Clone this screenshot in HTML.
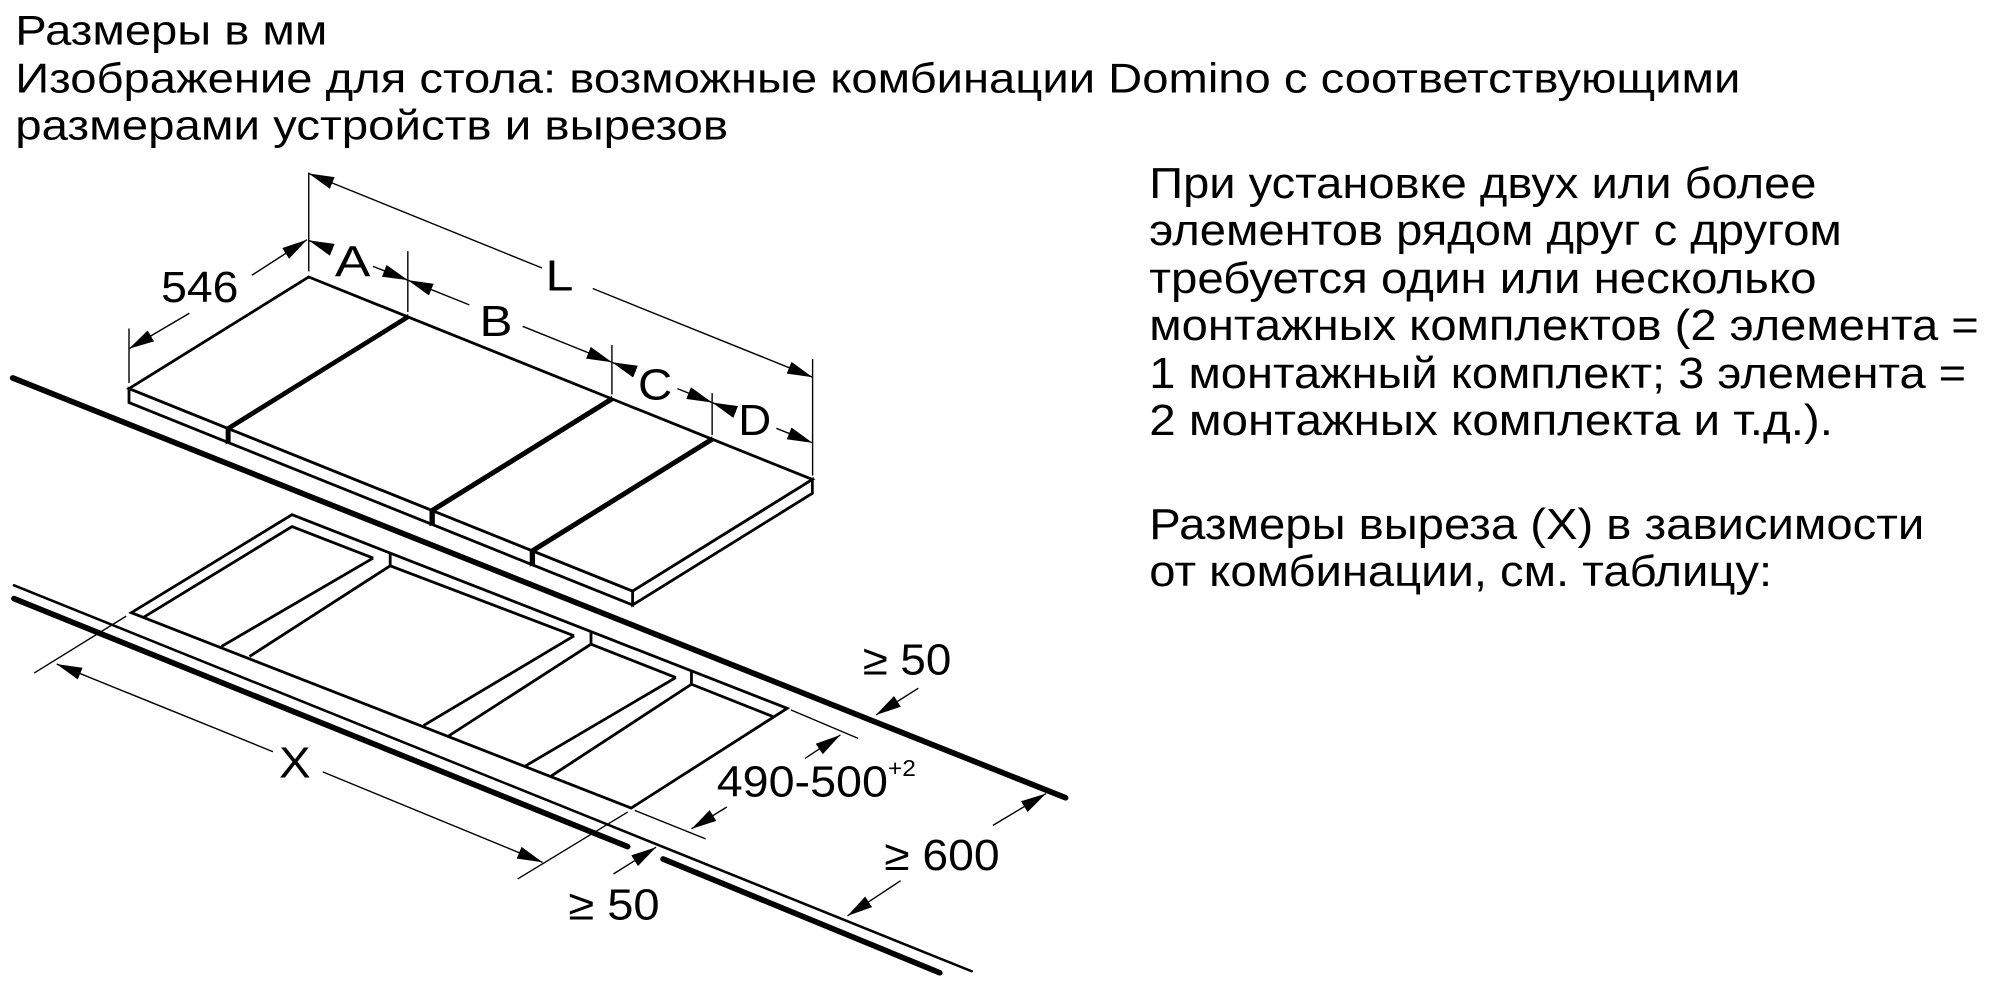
<!DOCTYPE html>
<html><head><meta charset="utf-8"><style>
html,body{margin:0;padding:0;background:#fff;}
svg{display:block;}
text{font-family:"Liberation Sans",sans-serif;fill:#000;}
</style></head><body>
<svg width="1989" height="988" viewBox="0 0 1568 779" preserveAspectRatio="none" xmlns="http://www.w3.org/2000/svg">
<defs>
<marker id="ar" viewBox="0 0 20 10" refX="20" refY="5" markerWidth="20" markerHeight="10" markerUnits="userSpaceOnUse" orient="auto">
<path d="M0,0 L20,5 L0,10 Z" fill="#000"/></marker>
</defs>
<rect width="1568" height="779" fill="#fff"/>

<g font-size="33">
<text x="12" y="35" textLength="246" lengthAdjust="spacingAndGlyphs">Размеры в мм</text>
<text x="12" y="73" textLength="1360" lengthAdjust="spacingAndGlyphs">Изображение для стола: возможные комбинации Domino с соответствующими</text>
<text x="12" y="110" textLength="562" lengthAdjust="spacingAndGlyphs">размерами устройств и вырезов</text>
</g>
<g font-size="34">
<text x="906" y="156" textLength="526" lengthAdjust="spacingAndGlyphs">При установке двух или более</text>
<text x="906" y="193" textLength="546" lengthAdjust="spacingAndGlyphs">элементов рядом друг с другом</text>
<text x="906" y="231" textLength="526" lengthAdjust="spacingAndGlyphs">требуется один или несколько</text>
<text x="906" y="268" textLength="654" lengthAdjust="spacingAndGlyphs">монтажных комплектов (2 элемента =</text>
<text x="906" y="306" textLength="644" lengthAdjust="spacingAndGlyphs">1 монтажный комплект; 3 элемента =</text>
<text x="906" y="343" textLength="539" lengthAdjust="spacingAndGlyphs">2 монтажных комплекта и т.д.).</text>
<text x="906" y="425" textLength="611" lengthAdjust="spacingAndGlyphs">Размеры выреза (X) в зависимости</text>
<text x="906" y="462" textLength="491" lengthAdjust="spacingAndGlyphs">от комбинации, см. таблицу:</text>
</g>

<g stroke="#000" stroke-linecap="round" fill="none">
<line x1="10" y1="298" x2="840" y2="629" stroke-width="4.5"/>
<line x1="11" y1="461.5" x2="766" y2="765.8" stroke-width="2"/>
<line x1="11" y1="472" x2="494.8" y2="667.5" stroke-width="4.5"/>
<line x1="522.7" y1="677.3" x2="740.8" y2="767" stroke-width="4.5"/>
</g>

<g stroke="#000" stroke-width="2.2" fill="#fff" stroke-linejoin="miter">
<polygon points="320.7,249.5 179,337.5 179,348.5 320.7,260.5"/>
<polygon points="101.7,306.4 179,337.5 179,348.5 101.7,317.4"/>
<polygon points="243.4,218.4 320.7,249.5 179,337.5 101.7,306.4"/>

<polygon points="481.4,314.1 339.7,402.1 339.7,413.1 481.4,325.1"/>
<polygon points="180.7,338.2 339.7,402.1 339.7,413.1 180.7,349.2"/>
<polygon points="322.4,250.2 481.4,314.1 339.7,402.1 180.7,338.2"/>

<polygon points="560.4,345.9 418.7,433.9 418.7,444.9 560.4,356.9"/>
<polygon points="341.7,402.9 418.7,433.9 418.7,444.9 341.7,413.9"/>
<polygon points="483.4,314.9 560.4,345.9 418.7,433.9 341.7,402.9"/>

<polygon points="640.4,378 498.7,466 498.7,477 640.4,389"/>
<polygon points="420.7,434.7 498.7,466 498.7,477 420.7,445.7"/>
<polygon points="562.4,346.7 640.4,378 498.7,466 420.7,434.7"/>
</g>

<g stroke="#000" stroke-width="2.2" fill="none">
<polygon points="230.2,405.8 620.6,558.5 497.6,637.1 103.5,483.1"/>
<polyline points="113,486.8 230.2,415.2 294.2,440"/>
<line x1="294.2" y1="440" x2="174.6" y2="509.7"/>
<line x1="307.6" y1="446.1" x2="196.7" y2="517.6"/>
<line x1="307.6" y1="436.3" x2="307.6" y2="446.1"/>
<line x1="307.6" y1="446.1" x2="452.6" y2="501.3"/>
<line x1="452.6" y1="501.3" x2="334" y2="572"/>
<line x1="465.9" y1="507.9" x2="353.3" y2="580.5"/>
<line x1="465.9" y1="498" x2="465.9" y2="507.9"/>
<line x1="465.9" y1="507.9" x2="532.8" y2="534.2"/>
<line x1="532.8" y1="534.2" x2="413.2" y2="604.5"/>
<line x1="545.1" y1="539.5" x2="434.3" y2="612"/>
<line x1="545.1" y1="528.9" x2="545.1" y2="539.5"/>
<line x1="545.1" y1="539.5" x2="609.4" y2="565"/>
</g>

<g stroke="#000" stroke-width="1.1" fill="none">
<line x1="243.4" y1="136" x2="243.4" y2="214"/>
<line x1="321.5" y1="198" x2="321.5" y2="246"/>
<line x1="482.4" y1="272" x2="482.4" y2="311"/>
<line x1="561.4" y1="310" x2="561.4" y2="343"/>
<line x1="640.6" y1="283" x2="640.6" y2="375"/>
<line x1="101.7" y1="259" x2="101.7" y2="302"/>
<line x1="427.3" y1="211.3" x2="243.4" y2="136.8" marker-end="url(#ar)"/>
<line x1="467.3" y1="227.5" x2="640.6" y2="297.4" marker-end="url(#ar)"/>
<line x1="262" y1="197" x2="243.4" y2="189.5" marker-end="url(#ar)"/>
<line x1="294" y1="210" x2="321.5" y2="220.9" marker-end="url(#ar)"/>
<line x1="370" y1="240.4" x2="321.5" y2="220.9" marker-end="url(#ar)"/>
<line x1="412" y1="257.3" x2="482.4" y2="285.6" marker-end="url(#ar)"/>
<line x1="501" y1="293" x2="482.4" y2="285.6" marker-end="url(#ar)"/>
<line x1="534" y1="306.4" x2="561.4" y2="317.4" marker-end="url(#ar)"/>
<line x1="580" y1="324.9" x2="561.4" y2="317.4" marker-end="url(#ar)"/>
<line x1="612" y1="337.7" x2="640.6" y2="349.2" marker-end="url(#ar)"/>
<line x1="198.6" y1="217" x2="242" y2="189" marker-end="url(#ar)"/>
<line x1="149.3" y1="247" x2="101.7" y2="275" marker-end="url(#ar)"/>
<line x1="99.5" y1="485.8" x2="26.9" y2="530.7"/>
<line x1="494.8" y1="640.3" x2="408.1" y2="693"/>
<line x1="215.2" y1="592.7" x2="44.7" y2="523.6" marker-end="url(#ar)"/>
<line x1="254.4" y1="608.6" x2="427.7" y2="679.9" marker-end="url(#ar)"/>
<line x1="623.4" y1="559.7" x2="676.5" y2="582.2"/>
<line x1="500.4" y1="639" x2="556.3" y2="661.4"/>
<line x1="634.6" y1="598" x2="662.5" y2="579.5" marker-end="url(#ar)"/>
<line x1="573" y1="636.3" x2="545.1" y2="653.5" marker-end="url(#ar)"/>
<line x1="724" y1="542.6" x2="690.6" y2="563.7" marker-end="url(#ar)"/>
<line x1="782.8" y1="650.8" x2="824.6" y2="625.7" marker-end="url(#ar)"/>
<line x1="710" y1="694.4" x2="668.1" y2="722.1" marker-end="url(#ar)"/>
<line x1="483.6" y1="689.1" x2="517.2" y2="668" marker-end="url(#ar)"/>
</g>

<g font-size="34">
<text x="127" y="238" textLength="61" lengthAdjust="spacingAndGlyphs">546</text>
<text x="264" y="218" textLength="28" lengthAdjust="spacingAndGlyphs">A</text>
<text x="430" y="229" textLength="22" lengthAdjust="spacingAndGlyphs">L</text>
<text x="378" y="265" textLength="26" lengthAdjust="spacingAndGlyphs">B</text>
<text x="503" y="315" textLength="27" lengthAdjust="spacingAndGlyphs">C</text>
<text x="582" y="343" textLength="26" lengthAdjust="spacingAndGlyphs">D</text>
<text x="220" y="613" textLength="25" lengthAdjust="spacingAndGlyphs">X</text>
<text x="680" y="532" textLength="70" lengthAdjust="spacingAndGlyphs">≥ 50</text>
<text x="565" y="628" textLength="135" lengthAdjust="spacingAndGlyphs">490-500</text>
<text x="700" y="612" font-size="18" textLength="22" lengthAdjust="spacingAndGlyphs">+2</text>
<text x="697" y="686" textLength="91" lengthAdjust="spacingAndGlyphs">≥ 600</text>
<text x="448" y="725" textLength="72" lengthAdjust="spacingAndGlyphs">≥ 50</text>
</g>
</svg>
</body></html>
